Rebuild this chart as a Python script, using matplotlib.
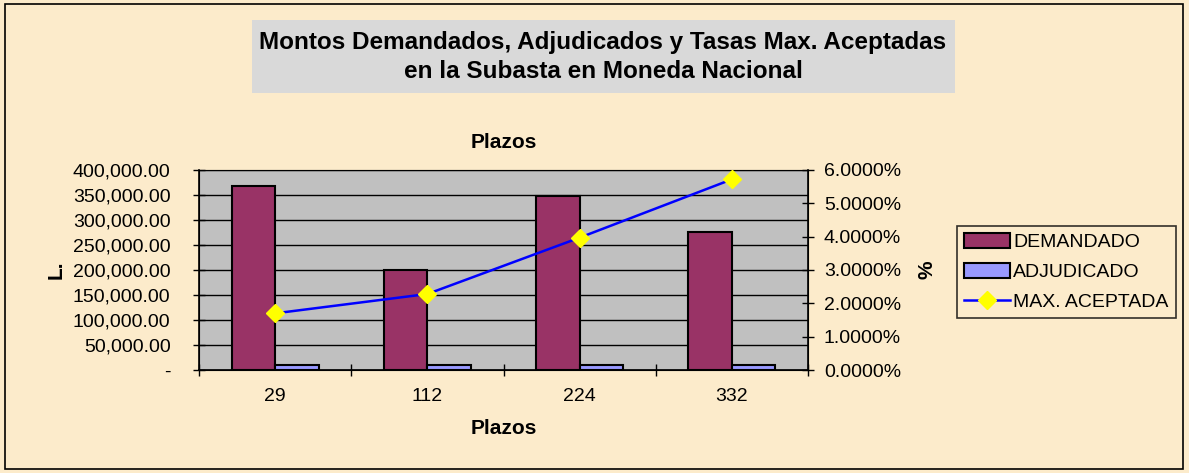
import numpy as np
import matplotlib
matplotlib.use("Agg")
import matplotlib.pyplot as plt
from matplotlib.patches import Rectangle
from matplotlib.ticker import FuncFormatter, MultipleLocator

plt.rcParams['font.family'] = ['Liberation Sans', 'DejaVu Sans']

plazos = ["29", "112", "224", "332"]
demandado = [368000, 199000, 348000, 275000]
adjudicado = [10000, 10000, 10000, 10000]
max_aceptada = [0.0170, 0.0228, 0.0397, 0.0572]

BG = "#FCEBCB"
fig = plt.figure(figsize=(11.89, 4.73), dpi=100)
fig.patch.set_facecolor(BG)

# outer border and title box
fig.add_artist(Rectangle((5 / 1189, 4 / 473), 1178 / 1189, 465 / 473, transform=fig.transFigure,
                         fill=False, edgecolor="black", linewidth=1.2))
fig.add_artist(Rectangle((252 / 1189, 1 - 93 / 473), 703 / 1189, 73 / 473, transform=fig.transFigure,
                         facecolor="#D9D9D9", edgecolor="none"))
fig.text(603 / 1189, 1 - 43 / 473, "Montos Demandados, Adjudicados y Tasas Max. Aceptadas",
         ha="center", va="center", fontsize=17.5, fontweight="bold")
fig.text(603 / 1189, 1 - 72 / 473, "en la Subasta en Moneda Nacional",
         ha="center", va="center", fontsize=17.5, fontweight="bold")

ax = fig.add_axes([199 / 1189, 103 / 473, 609 / 1189, 200 / 473])
ax.set_facecolor("#C0C0C0")
x = np.arange(len(plazos))
w = 1 / 3.5
b1 = ax.bar(x - w / 2, demandado, w, color="#993366", edgecolor="black", linewidth=1.5,
            label="DEMANDADO", zorder=3)
b2 = ax.bar(x + w / 2, adjudicado, w, color="#9999FF", edgecolor="black", linewidth=1.5,
            label="ADJUDICADO", zorder=3)
ax.set_xlim(-0.5, len(plazos) - 0.5)
ax.set_ylim(0, 400000)
ax.yaxis.set_major_locator(MultipleLocator(50000))
ax.yaxis.set_major_formatter(FuncFormatter(lambda v, p: "-" if v == 0 else f"{v:,.2f}"))
ax.grid(axis="y", color="black", linewidth=1, zorder=1)
ax.set_xticks(np.arange(-0.5, len(plazos), 1), minor=False)
ax.set_xticklabels([])
ax.set_xticks(x, minor=True)
ax.set_xticklabels(plazos, minor=True)
ax.tick_params(axis="x", which="major", direction="inout", length=9, width=1)
ax.tick_params(axis="x", which="minor", length=0, pad=13, labelsize=14)
ax.tick_params(axis="y", direction="inout", length=9, width=1, pad=16, labelsize=14)
ax.spines["top"].set_color("#808080")
for s in ["left", "bottom", "right"]:
    ax.spines[s].set_linewidth(1.2)
ax.set_xlabel("Plazos", fontsize=15, fontweight="bold", labelpad=10)
ax.set_ylabel("L.", fontsize=15, fontweight="bold", labelpad=5)
ax.set_title("Plazos", fontsize=15, fontweight="bold", pad=16)

ax2 = ax.twinx()
ln, = ax2.plot(x, max_aceptada, color="#0000FF", linewidth=1.8, marker="D", markersize=9,
               markerfacecolor="#FFFF00", markeredgecolor="#FFFF00", label="MAX. ACEPTADA", zorder=4)
ax2.set_ylim(0, 0.06)
ax2.yaxis.set_major_locator(MultipleLocator(0.01))
ax2.yaxis.set_major_formatter(FuncFormatter(lambda v, p: f"{v * 100:.4f}%"))
ax2.tick_params(axis="y", direction="inout", length=9, width=1, pad=7, labelsize=14)
ax2.set_ylabel("%", fontsize=15, fontweight="bold", labelpad=12)

leg = fig.legend([b1, b2, ln], ["DEMANDADO", "ADJUDICADO", "MAX. ACEPTADA"],
                 loc="center left", bbox_to_anchor=(957 / 1189, 1 - 272 / 473),
                 fontsize=14, frameon=True, fancybox=False, edgecolor="black",
                 facecolor=BG, borderaxespad=0, handlelength=2.4, handletextpad=0.15,
                 labelspacing=0.6, borderpad=0.35, handleheight=0.8)
leg.get_frame().set_linewidth(1.2)

fig.savefig("out.png", dpi=100, facecolor=BG)
